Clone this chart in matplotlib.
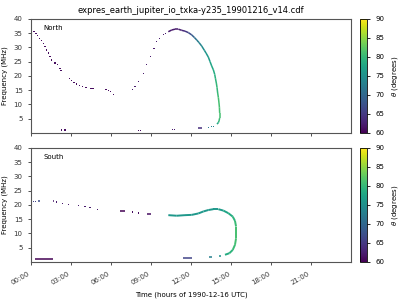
import numpy as np
import matplotlib
matplotlib.use("Agg")
from matplotlib import pyplot as plt
from matplotlib.collections import LineCollection
from matplotlib.ticker import FuncFormatter

title = "expres_earth_jupiter_io_txka-y235_19901216_v14.cdf"
hour_ticks = [0, 3, 6, 9, 12, 15, 18, 21]

# North: isolated dots (time h, freq MHz, theta deg)
n_dot_t = [0.05, 0.23, 0.38, 0.5, 0.65, 0.8, 0.93, 1.05, 1.18, 1.3, 1.43, 1.55, 1.8, 1.97, 2.18, 2.25,
           2.88, 3.05, 3.23, 3.43, 3.63, 3.88, 4.13, 4.45, 4.55, 4.65, 5.63, 5.8, 5.98, 6.18,
           7.63, 7.8, 8.05, 8.43, 8.68, 8.98, 9.23, 9.43, 9.63, 9.93, 10.1,
           2.3, 2.55, 8.05, 8.2, 10.6, 10.75, 13.3, 13.55, 13.7]
n_dot_f = [35.8, 35.5, 35.0, 34.2, 33.2, 32.3, 31.5, 30.3, 29.1, 28.0, 26.8, 25.6, 24.5, 23.9, 22.5, 22.0,
           19.0, 18.4, 17.6, 17.2, 16.7, 16.2, 15.9, 15.7, 15.7, 15.7, 15.3, 14.8, 14.4, 13.6,
           15.1, 16.2, 18.0, 20.9, 23.9, 26.8, 29.7, 32.0, 33.2, 34.4, 35.0,
           1.0, 1.0, 0.8, 0.8, 1.3, 1.3, 1.9, 2.2, 2.3]
n_dot_th = [61] * 30 + [62] * 11 + [61, 61, 61, 61, 62, 62, 72, 73, 73]

# North: short horizontal bars (t0, t1, freq, theta)
n_bar_t0 = [12.55]
n_bar_t1 = [12.8]
n_bar_f = [1.7]
n_bar_th = [64]

# North: continuous arc
n_arc_t = [10.3, 10.55, 10.8, 11.05, 11.3, 11.55, 11.8, 12.05, 12.25, 12.43, 12.6, 12.8, 13.0, 13.13,
           13.3, 13.43, 13.55, 13.68, 13.78, 13.83, 13.9, 13.95, 14.0, 14.05, 14.1, 14.13, 14.15,
           14.15, 14.1, 14.05, 13.95]
n_arc_f = [35.5, 36.1, 36.4, 36.4, 36.0, 35.7, 35.2, 34.4, 33.5, 32.6, 31.7, 30.5, 29.0, 28.0,
           26.6, 25.0, 23.5, 22.1, 20.5, 19.2, 17.5, 16.0, 14.0, 12.5, 10.5, 9.0, 7.0,
           5.2, 4.2, 3.6, 3.1]
n_arc_th = [62, 62, 62, 62, 63, 64, 66, 68, 70, 72, 73, 74, 75, 76,
            76, 77, 78, 78, 79, 79, 80, 80, 80, 81, 81, 81, 81,
            81, 80, 79, 77]

# South: isolated dots
s_dot_t = [0.05, 0.18, 0.35, 1.93, 2.35, 2.8, 3.55, 4.05, 4.43, 4.98, 7.6, 8.05]
s_dot_f = [20.8, 21.1, 21.2, 21.0, 20.6, 20.2, 19.8, 19.4, 19.1, 18.5, 17.5, 17.2]
s_dot_th = [66, 66, 66, 62, 62, 62, 62, 62, 62, 62, 61, 61]

# South: short horizontal bars
s_bar_t0 = [0.55, 1.63, 6.68, 8.68, 0.3, 11.43, 13.35, 14.1]
s_bar_t1 = [0.68, 1.73, 7.05, 8.98, 1.63, 12.05, 13.55, 14.25]
s_bar_f = [21.4, 21.4, 17.9, 16.7, 1.05, 1.3, 1.75, 2.1]
s_bar_th = [67, 62, 60, 61, 60, 66, 73, 75]

# South: continuous arc
s_arc_t = [10.3, 10.93, 11.55, 12.05, 12.55, 12.93, 13.3, 13.68, 14.05, 14.43, 14.8, 15.13,
           15.3, 15.38, 15.38, 15.3, 15.13, 14.88, 14.55]
s_arc_f = [16.4, 16.2, 16.4, 16.5, 17.0, 17.7, 18.2, 18.5, 18.5, 18.0, 17.1, 15.9,
           14.4, 12.4, 8.3, 6.0, 4.2, 3.05, 2.5]
s_arc_th = [76, 76, 76, 76, 76, 76, 76, 76, 76, 77, 78, 79,
            80, 81, 81, 81, 80, 79, 78]

cmap = plt.get_cmap("viridis")
norm = plt.Normalize(60, 90)


def draw_panel(ax, dt, df, dth, b0, b1, bf, bth, at, af, ath, name, lw):
    ax.scatter(dt, df, c=dth, cmap=cmap, norm=norm, marker="s", s=0.8, linewidths=0)
    ax.hlines(bf, b0, b1, colors=cmap(norm(np.array(bth))), lw=1.1)
    pts = np.column_stack([at, af]).reshape(-1, 1, 2)
    segs = np.concatenate([pts[:-1], pts[1:]], axis=1)
    th = np.array(ath, dtype=float)
    lc = LineCollection(segs, cmap=cmap, norm=norm, linewidths=lw)
    lc.set_array((th[:-1] + th[1:]) / 2)
    ax.add_collection(lc)
    ax.set_xlim(0, 24)
    ax.set_ylim(0, 40)
    ax.set_yticks([5, 10, 15, 20, 25, 30, 35, 40])
    ax.set_xticks(hour_ticks)
    ax.set_ylabel("Frequency (MHz)", fontsize=5)
    ax.tick_params(labelsize=5, length=2.5, width=0.6, colors="#333333")
    for sp in ax.spines.values():
        sp.set_linewidth(0.8)
        sp.set_color("#555555")
    ax.text(0.04, 0.9, name, transform=ax.transAxes, fontsize=5)


fig = plt.figure(figsize=(4, 3), dpi=100)
ax1 = fig.add_axes([0.0775, 0.557, 0.8, 0.38])
ax2 = fig.add_axes([0.0775, 0.127, 0.8, 0.38])
cax1 = fig.add_axes([0.9, 0.557, 0.018, 0.38])
cax2 = fig.add_axes([0.9, 0.127, 0.018, 0.38])

draw_panel(ax1, n_dot_t, n_dot_f, n_dot_th, n_bar_t0, n_bar_t1, n_bar_f, n_bar_th,
           n_arc_t, n_arc_f, n_arc_th, "North", 1.1)
draw_panel(ax2, s_dot_t, s_dot_f, s_dot_th, s_bar_t0, s_bar_t1, s_bar_f, s_bar_th,
           s_arc_t, s_arc_f, s_arc_th, "South", 1.4)

ax1.set_xticklabels([])
ax1.set_title(title, fontsize=6, pad=4)
ax2.xaxis.set_major_formatter(FuncFormatter(lambda v, p: "%02d:00" % int(v)))
for lab in ax2.get_xticklabels():
    lab.set_rotation(30)
    lab.set_ha("right")
ax2.set_xlabel("Time (hours of 1990-12-16 UTC)", fontsize=5)

sm = plt.cm.ScalarMappable(norm=norm, cmap=cmap)
for cax in (cax1, cax2):
    cb = fig.colorbar(sm, cax=cax)
    cb.set_ticks([60, 65, 70, 75, 80, 85, 90])
    cb.ax.tick_params(labelsize=5, length=2.5, width=0.6)
    cb.set_label(r"$\theta$ (degrees)", fontsize=5)
    cb.outline.set_linewidth(0.6)

fig.savefig("out.png", dpi=100)
